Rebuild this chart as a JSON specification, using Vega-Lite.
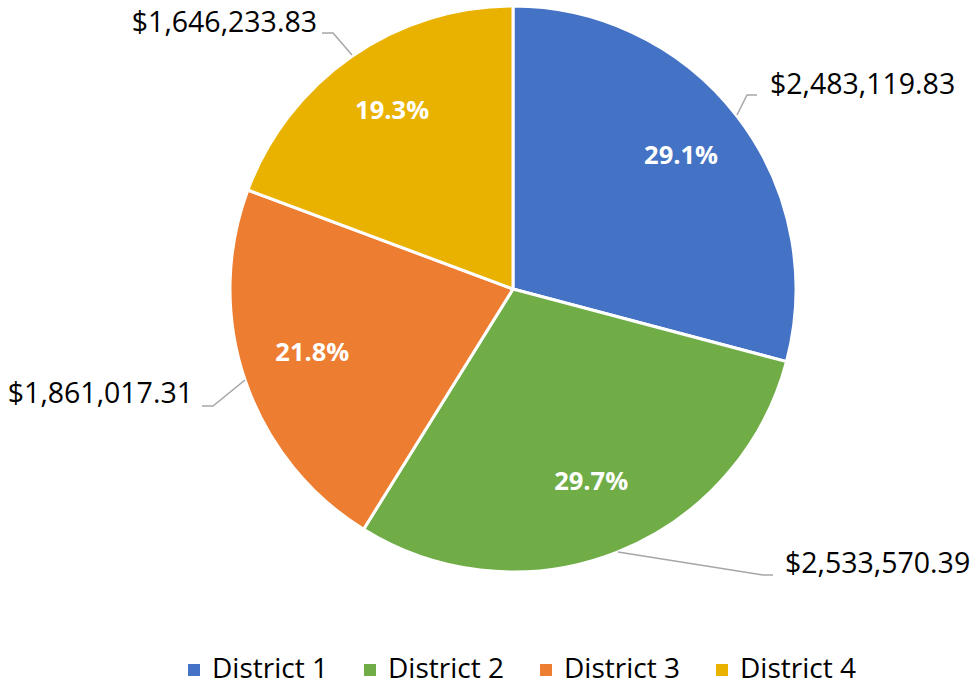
{
  "$schema": "https://vega.github.io/schema/vega-lite/v6.json",
  "width": 926,
  "height": 578,
  "autosize": {"type": "none"},
  "padding": {"left": 50, "top": 0, "right": 0, "bottom": 109},
  "background": "white",
  "config": {"view": {"stroke": null}, "font": "Open Sans"},
  "datasets": {
    "districts": [
      {"district": "District 1", "amount": 2483119.83, "share": 0.291},
      {"district": "District 2", "amount": 2533570.39, "share": 0.297},
      {"district": "District 3", "amount": 1861017.31, "share": 0.218},
      {"district": "District 4", "amount": 1646233.83, "share": 0.193}
    ],
    "labels": [
      {"district": "District 1", "amount": 2483119.83, "lx": 0.9081, "ly": 0.7208},
      {"district": "District 2", "amount": 2533570.39, "lx": 0.9611, "ly": -0.9717},
      {"district": "District 3", "amount": 1861017.31, "lx": -1.1307, "ly": -0.3710},
      {"district": "District 4", "amount": 1646233.83, "lx": -0.6926, "ly": 0.9399}
    ],
    "leaders": [
      {"district": "District 1", "seq": 1, "lx": 0.7915, "ly": 0.6148},
      {"district": "District 1", "seq": 2, "lx": 0.8269, "ly": 0.6855},
      {"district": "District 1", "seq": 3, "lx": 0.8622, "ly": 0.6855},
      {"district": "District 2", "seq": 1, "lx": 0.3710, "ly": -0.9293},
      {"district": "District 2", "seq": 2, "lx": 0.8834, "ly": -1.0106},
      {"district": "District 2", "seq": 3, "lx": 0.9187, "ly": -1.0106},
      {"district": "District 3", "seq": 1, "lx": -0.9470, "ly": -0.3216},
      {"district": "District 3", "seq": 2, "lx": -1.0601, "ly": -0.4134},
      {"district": "District 3", "seq": 3, "lx": -1.0989, "ly": -0.4134},
      {"district": "District 4", "seq": 1, "lx": -0.5689, "ly": 0.8269},
      {"district": "District 4", "seq": 2, "lx": -0.6360, "ly": 0.9046},
      {"district": "District 4", "seq": 3, "lx": -0.6749, "ly": 0.9046}
    ]
  },
  "layer": [
    {
      "data": {"name": "districts"},
      "mark": {"type": "arc", "outerRadius": 283, "stroke": "white", "strokeWidth": 3},
      "encoding": {
        "theta": {"field": "amount", "type": "quantitative", "stack": true},
        "order": {"field": "district", "type": "ordinal", "sort": "ascending"},
        "color": {
          "field": "district",
          "type": "nominal",
          "scale": {
            "domain": ["District 1", "District 2", "District 3", "District 4"],
            "range": ["#4472C4", "#70AD47", "#ED7D31", "#E9B200"]
          },
          "legend": {
            "title": null,
            "orient": "none",
            "direction": "horizontal",
            "legendX": 130,
            "legendY": 656,
            "padding": 0,
            "symbolType": "square",
            "symbolSize": 144,
            "symbolStrokeWidth": 0,
            "labelFont": "Open Sans",
            "labelFontSize": 28,
            "labelColor": "#000000",
            "labelOffset": 4,
            "columnPadding": 28,
            "labelLimit": 300
          }
        }
      }
    },
    {
      "data": {"name": "districts"},
      "mark": {"type": "text", "radius": 212, "dy": -4, "fill": "white", "fontWeight": "bold", "fontSize": 25.5, "font": "Open Sans", "align": "center", "baseline": "middle"},
      "encoding": {
        "theta": {"field": "amount", "type": "quantitative", "stack": true},
        "order": {"field": "district", "type": "ordinal", "sort": "ascending"},
        "detail": {"field": "district", "type": "nominal"},
        "text": {"field": "share", "type": "quantitative", "format": ".1%"}
      }
    },
    {
      "data": {"name": "leaders"},
      "mark": {"type": "line", "stroke": "#A6A6A6", "strokeWidth": 1.5},
      "encoding": {
        "x": {"field": "lx", "type": "quantitative", "scale": {"domain": [-1.636, 1.636], "nice": false, "zero": false}, "axis": null},
        "y": {"field": "ly", "type": "quantitative", "scale": {"domain": [-1.0212, 1.0212], "nice": false, "zero": false}, "axis": null},
        "detail": {"field": "district"},
        "order": {"field": "seq", "type": "quantitative"}
      }
    },
    {
      "data": {"name": "labels"},
      "transform": [{"filter": "datum.lx > 0"}],
      "mark": {"type": "text", "align": "left", "baseline": "middle", "fontSize": 28.5, "font": "Open Sans", "fill": "#000000"},
      "encoding": {
        "x": {"field": "lx", "type": "quantitative"},
        "y": {"field": "ly", "type": "quantitative"},
        "text": {"field": "amount", "type": "quantitative", "format": "$,.2f"}
      }
    },
    {
      "data": {"name": "labels"},
      "transform": [{"filter": "datum.lx < 0"}],
      "mark": {"type": "text", "align": "right", "baseline": "middle", "fontSize": 28.5, "font": "Open Sans", "fill": "#000000"},
      "encoding": {
        "x": {"field": "lx", "type": "quantitative"},
        "y": {"field": "ly", "type": "quantitative"},
        "text": {"field": "amount", "type": "quantitative", "format": "$,.2f"}
      }
    }
  ]
}
